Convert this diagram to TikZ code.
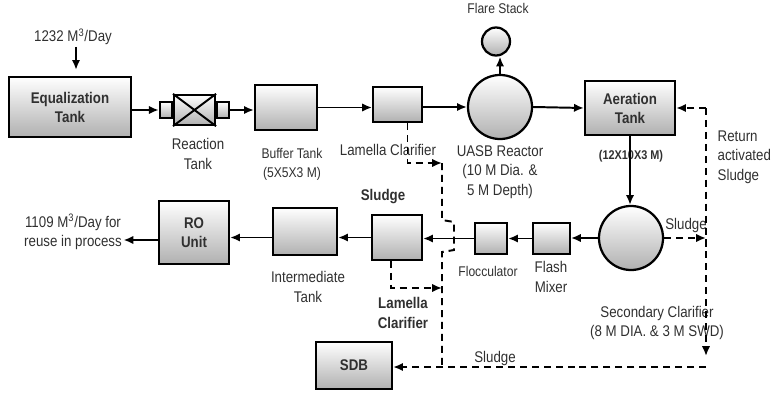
\documentclass[tikz,border=0pt]{standalone}
\usepackage{fontspec}
\setmainfont[FakeStretch=0.86]{Liberation Sans}
\usepackage{xcolor}
\definecolor{ink}{HTML}{303030}
\definecolor{shade}{HTML}{B0B0B0}
\usetikzlibrary{arrows.meta, positioning, calc}

\begin{document}
\begin{tikzpicture}[x=0.025cm, y=-0.025cm,
  tank/.style={draw=black, line width=1.6pt, top color=white, bottom color=shade,
    inner sep=0pt, align=center, text=ink, font=\bfseries\fontsize{11}{13.5}\selectfont},
  drum/.style={tank, circle},
  flow/.style={line width=1.4pt, -{Latex[length=7pt,width=6pt]}},
  sludge/.style={flow, dash pattern=on 5pt off 3.5pt},
  lbl/.style={align=center, text=ink, inner sep=1pt, font=\fontsize{11}{14}\selectfont},
  slbl/.style={lbl, font=\fontsize{10}{13.5}\selectfont},
  blbl/.style={lbl, font=\bfseries\fontsize{11}{14}\selectfont}]
  \useasboundingbox (0,0) rectangle (773,394);

  % --- Upper line ---
  \node[tank, minimum width=3.05cm, minimum height=1.5cm] (eq) at (70,107) {Equalization\\Tank};
  \node[lbl] (inflow) at (73,37) {1232 M\textsuperscript{3}/Day};

  % Reaction tank (mixer with end caps)
  \node[tank, minimum width=1.02cm, minimum height=0.75cm] (rmain) at (194.5,110) {};
  \draw[line width=1.4pt] (rmain.north west) -- (rmain.south east)
    (rmain.south west) -- (rmain.north east);
  \node[tank, minimum width=0.3cm, minimum height=0.4cm, anchor=east] (rcapl) at (rmain.west) {};
  \node[tank, minimum width=0.3cm, minimum height=0.4cm, anchor=west] (rcapr) at (rmain.east) {};
  \node[lbl] (rlbl) at (198,154) {Reaction\\Tank};

  \node[tank, minimum width=1.55cm, minimum height=1.12cm] (buf) at (286,107.5) {};
  \node[slbl] (buflbl) at (292,164) {Buffer Tank\\(5X5X3 M)};

  \node[tank, minimum width=1.22cm, minimum height=0.88cm] (lam1) at (397.5,104.5) {};
  \node[lbl] (lam1lbl) at (388,150) {Lamella Clarifier};

  \node[drum, minimum size=1.6cm] (uasb) at (500,107) {};
  \node[lbl] (uasblbl) at (500,172) {UASB Reactor\\(10 M Dia. \&\\5 M Depth)};
  \node[drum, minimum size=0.7cm] (flare) at (496,41.5) {};
  \node[slbl] (flarelbl) at (498,8) {Flare Stack};

  \node[tank, minimum width=2.25cm, minimum height=1.35cm] (aer) at (630,108) {Aeration\\Tank};
  \node[lbl, font=\bfseries\fontsize{9}{11}\selectfont] (aerlbl) at (631,156) {(12X10X3 M)};

  % --- Lower line ---
  \node[drum, minimum size=1.6cm] (sec) at (631,238) {};
  \node[lbl] (seclbl) at (657,323) {Secondary Clarifier\\(8 M DIA. \& 3 M SWD)};
  \node[lbl] (sludgea) at (686,225) {Sludge};

  \node[tank, minimum width=0.92cm, minimum height=0.78cm] (flash) at (551.5,238.5) {};
  \node[lbl] (flashlbl) at (551,277) {Flash\\Mixer};
  \node[tank, minimum width=0.8cm, minimum height=0.78cm] (floc) at (491,238.5) {};
  \node[slbl] (floclbl) at (488,271) {Flocculator};

  \node[tank, minimum width=1.25cm, minimum height=1.12cm] (lam2) at (397,237.5) {};
  \node[blbl] (sludgeb) at (383,197) {Sludge};
  \node[blbl] (lam2lbl) at (403,313) {Lamella\\Clarifier};

  \node[tank, minimum width=1.6cm, minimum height=1.18cm] (inter) at (305,231.5) {};
  \node[lbl] (interlbl) at (308,287) {Intermediate\\Tank};

  \node[tank, minimum width=1.75cm, minimum height=1.58cm] (ro) at (194,232.5) {RO\\Unit};
  \node[lbl] (out) at (73,232) {1109 M\textsuperscript{3}/Day for\\reuse in process};

  \node[tank, minimum width=1.9cm, minimum height=1.18cm] (sdb) at (354,365.5) {SDB};
  \node[lbl] (sludgec) at (495,358) {Sludge};
  \node[lbl] (retlbl) at (716,157) [anchor=west, align=left] {Return\\activated\\Sludge};

  % --- Main flow ---
  \draw[flow] (inflow.south) ++(3,0) -- ++(0,23);
  \draw[flow] (eq.east |- rcapl.west) -- (rcapl.west);
  \draw[flow] (rcapr.east) -- (rcapr.east -| buf.west);
  \draw[flow] (buf.east) -- (buf.east -| lam1.west);
  \draw[flow] (lam1.east |- uasb.west) -- (uasb.west);
  \draw[flow] (uasb.north) -- (flare.south -| uasb.north);
  \draw[flow] (uasb.east) -- (aer.west);
  \draw[flow] (aer.south) -- (aer.south |- sec.north);
  \draw[flow] (sec.west) -- (sec.west -| flash.east);
  \draw[flow] (flash.west) -- (flash.west -| floc.east);
  \draw[flow] (floc.west) -- (floc.west -| lam2.east);
  \draw[flow] (lam2.west) -- (lam2.west -| inter.east);
  \draw[flow] (inter.west |- lam2.west) -- (ro.east |- lam2.west);
  \draw[flow] (ro.west |- 0,240) -- (out.east |- 0,240);

  % --- Sludge lines ---
  \coordinate (bus) at (442,163);
  \coordinate (ret) at (706,108);
  \coordinate (bot) at (706,367);
  \draw[sludge] ([xshift=0.25cm]lam1.south) |- (bus);
  \draw[line width=1.4pt, dash pattern=on 5pt off 3.5pt] (bus) -- (442,220) -- (454,222)
    -- (454,250) -- (442,252) -- (bus |- bot);
  \draw[sludge] ([xshift=-0.15cm]lam2.south) |- (bus |- 0,288);
  \draw[sludge] (sec.east) -- (sec.east -| ret);
  \draw[sludge] (ret) -- (aer.east);
  \draw[sludge] (ret) -- (706,356);
  \draw[sludge] (bot) -- (bot -| sdb.east);
\end{tikzpicture}
\end{document}
